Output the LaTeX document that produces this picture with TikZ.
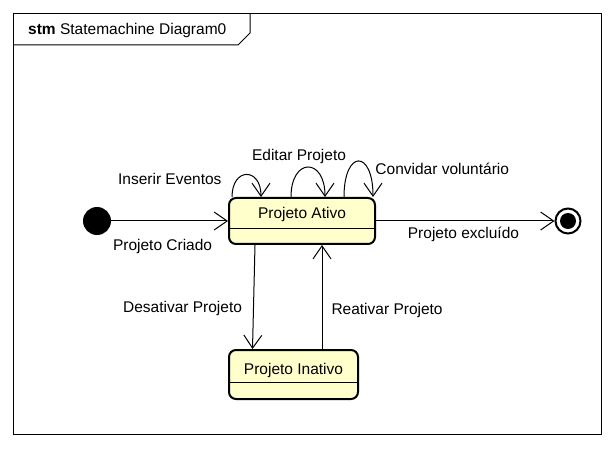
\documentclass[tikz,border=0pt]{standalone}
\usepackage{fontspec}
\setmainfont{Liberation Sans}
\usetikzlibrary{arrows.meta}
\definecolor{statefill}{RGB}{255,255,204}
\begin{document}
\begin{tikzpicture}[x=1pt,y=1pt]
	\tikzstyle{state}=[rectangle,rounded corners=7pt,line width=2pt,draw=black,fill=statefill,inner sep=0pt,font=\fontsize{15.5}{18}\selectfont]
	\tikzstyle{initial}=[circle,fill=black,minimum size=28pt,inner sep=0pt]
	\tikzstyle{final}=[circle,draw=black,line width=2pt,fill=white,minimum size=25pt,inner sep=0pt]
	\tikzstyle{finaldot}=[circle,fill=black,minimum size=16pt,inner sep=0pt]
	\tikzstyle{edge}=[draw,line width=1pt,-{Straight Barb[length=13pt,width=18pt]}]
	\tikzstyle{trigger}=[font=\fontsize{15.5}{18}\selectfont,inner sep=1pt]
	\useasboundingbox (0,0) rectangle (614,448);
	\begin{scope}
		\draw[line width=1pt] (13.5,14) rectangle (601,434);
		\draw[line width=1pt] (13.5,403) -- (238,403) -- (250,415) -- (250,434);
		\node[anchor=base west,inner sep=0pt,font=\fontsize{15.5}{18}\selectfont] (titulo) at (28,413) {\textbf{stm} Statemachine Diagram0};
		\node [initial] (inicio) at (97,227) {};
		\node [state,minimum width=146pt,minimum height=46pt,text height=11pt,text depth=15pt] (ativo) at (302,227) {Projeto Ativo};
		\node [state,minimum width=129pt,minimum height=49pt,text height=11pt,text depth=12pt] (inativo) at (293.5,73.5) {Projeto Inativo};
		\node [final] (fim) at (568,227) {};
		\node [finaldot] (fimcentro) at (fim) {};
		\draw[line width=1pt] ([yshift=-8pt]ativo.west) -- ([yshift=-8pt]ativo.east);
		\draw[line width=1pt] ([yshift=-7.5pt]inativo.west) -- ([yshift=-7.5pt]inativo.east);
		\coordinate (desativar-de) at ([xshift=27pt]ativo.south west);
		\coordinate (desativar-para) at ([xshift=24.5pt]inativo.north west);
		\coordinate (reativar-de) at ([xshift=94pt]inativo.north west);
		\coordinate (reativar-para) at ([xshift=94pt]ativo.south west);
		\coordinate (inserir-de) at ([xshift=4pt]ativo.north west);
		\coordinate (inserir-para) at ([xshift=33pt]ativo.north west);
		\coordinate (editar-de) at ([xshift=63pt]ativo.north west);
		\coordinate (editar-para) at ([xshift=97pt]ativo.north west);
		\coordinate (convidar-de) at ([xshift=116pt]ativo.north west);
		\coordinate (convidar-para) at ([xshift=145pt]ativo.north west);
		\path (inicio) edge [edge] node[trigger,below=17pt,pos=0.44] {Projeto Criado} (ativo);
		\path (ativo) edge [edge] node[trigger,below=5pt,pos=0.49] {Projeto excluído} (fim);
		\path (desativar-de) edge [edge] node[trigger,left=10pt,pos=0.61] {Desativar Projeto} (desativar-para);
		\path (reativar-de) edge [edge] node[trigger,right=8pt,pos=0.37] {Reativar Projeto} (reativar-para);
		\path (inserir-de) edge [edge,out=90,in=90,looseness=2.64] node[trigger,pos=0.2,left=12pt,yshift=4pt] {Inserir Eventos} (inserir-para);
		\path (editar-de) edge [edge,out=90,in=90,looseness=3.0] node[trigger,pos=0.5,above=2pt,xshift=-9pt] {Editar Projeto} (editar-para);
		\path (convidar-de) edge [edge,out=90,in=90,looseness=4.23] node[trigger,pos=0.8,right=4pt,yshift=5pt] {Convidar voluntário} (convidar-para);
	\end{scope}
\end{tikzpicture}
\end{document}
